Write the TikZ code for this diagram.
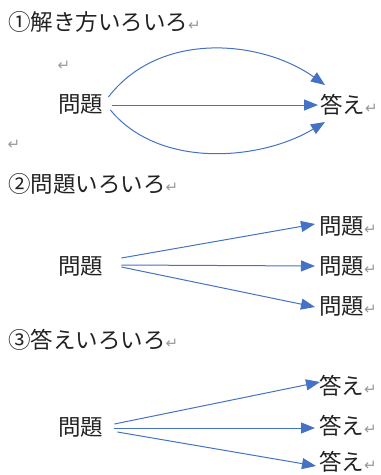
\documentclass[tikz,border=0pt]{standalone}
\usepackage{fontspec}
\newfontfamily\jp{Noto Sans CJK JP}
\newfontfamily\dv{DejaVu Sans}
\usetikzlibrary{arrows.meta}
\definecolor{arrowblue}{HTML}{4472C4}
\definecolor{txtgray}{HTML}{222222}
\newcommand\rmk{{\dv\fontsize{15}{15}\selectfont\textcolor{black!40}{↵}}}
\begin{document}
\begin{tikzpicture}[x=1pt,y=-1pt,
  txt/.style={inner sep=0pt, anchor=west, text=txtgray, font=\jp\fontsize{22.5}{22.5}\selectfont},
  ret/.style={inner sep=0pt},
  arr/.style={draw=arrowblue, line width=1pt, -{Triangle[length=14pt,width=11pt]}},
]
\useasboundingbox (0,0) rectangle (381,475);
% section 1
\node[txt] (h1) at (8,22) {①解き方いろいろ\rmk};
\node[ret] (r1) at (64,66) {\rmk};
\node[txt] (p1) at (58,104) {問題};
\node[ret] (r2) at (14,145) {\rmk};
\node[txt] (a1) at (320,105) {答え\rmk};
\draw[arr] ([shift={(5,-7)}]p1.east) .. controls (160,30) and (262,40) .. ([shift={(5,-20)}]a1.west);
\draw[arr] ([shift={(9,1)}]p1.east) -- ([shift={(-2,0)}]a1.west);
\draw[arr] ([shift={(7,6)}]p1.east) .. controls (160,170) and (262,160) .. ([shift={(5,17)}]a1.west);
% section 2
\node[txt] (h2) at (8,184) {②問題いろいろ\rmk};
\node[txt] (p2) at (58,266) {問題};
\node[txt] (b1) at (319,226) {問題\rmk};
\node[txt] (b2) at (319,266) {問題\rmk};
\node[txt] (b3) at (319,306) {問題\rmk};
\draw[arr] ([shift={(18,-8)}]p2.east) -- ([shift={(-4,-2)}]b1.west);
\draw[arr] ([shift={(18,-1)}]p2.east) -- ([shift={(-4,0)}]b2.west);
\draw[arr] ([shift={(18,1)}]p2.east) -- ([shift={(-4,1)}]b3.west);
% section 3
\node[txt] (h3) at (8,340) {③答えいろいろ\rmk};
\node[txt] (p3) at (58,427) {問題};
\node[txt] (c1) at (319,386) {答え\rmk};
\node[txt] (c2) at (319,426) {答え\rmk};
\node[txt] (c3) at (319,462) {答え\rmk};
\draw[arr] ([shift={(11,-3)}]p3.east) -- ([shift={(1,-4)}]c1.west);
\draw[arr] ([shift={(11,1)}]p3.east) -- ([shift={(-4,2)}]c2.west);
\draw[arr] ([shift={(14,5)}]p3.east) -- ([shift={(-3,4)}]c3.west);
\end{tikzpicture}
\end{document}
